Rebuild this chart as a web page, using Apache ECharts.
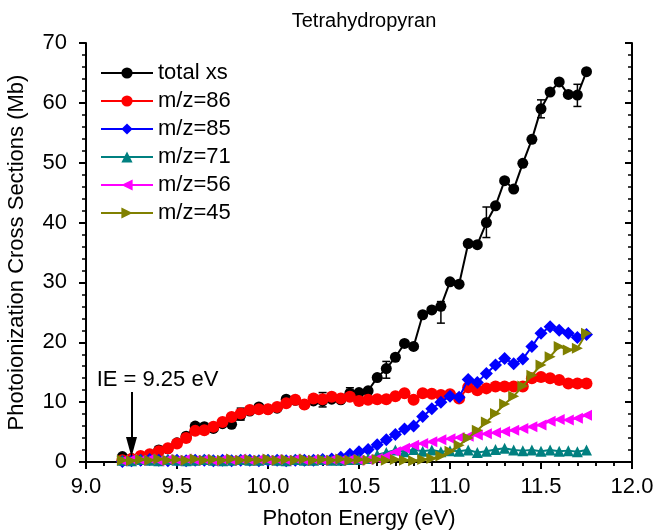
<!DOCTYPE html>
<html>
<head>
<meta charset="utf-8">
<script src="https://cdn.jsdelivr.net/npm/echarts@6/dist/echarts.min.js"></script>
<style>
html,body{margin:0;padding:0;background:#fff;}
#chart{width:657px;height:531px;}
</style>
</head>
<body>
<div id="chart"></div>
<script>
// Photon energies (eV)
var energies = [9.20,9.25,9.30,9.35,9.40,9.45,9.50,9.55,9.60,9.65,9.70,9.75,9.80,9.85,9.90,9.95,
  10.00,10.05,10.10,10.15,10.20,10.25,10.30,10.35,10.40,10.45,10.50,10.55,10.60,10.65,10.70,10.75,
  10.80,10.85,10.90,10.95,11.00,11.05,11.10,11.15,11.20,11.25,11.30,11.35,11.40,11.45,11.50,11.55,
  11.60,11.65,11.70,11.75];

var totalXs = [0.9,0.6,0.8,1.2,2.0,2.2,3.2,4.3,6.0,5.9,5.6,6.4,6.3,7.8,8.5,9.2,
  8.8,9.0,10.5,10.3,9.6,10.2,10.2,10.5,10.4,11.5,11.6,11.9,14.1,15.6,17.5,19.8,
  19.3,24.6,25.4,26.0,30.1,29.7,36.5,36.3,40.0,42.8,47.0,45.6,49.9,53.9,59.0,61.8,
  63.5,61.4,61.3,65.2];

var mz86 = [0.3,0.5,1.0,1.3,1.8,2.3,3.1,4.0,5.2,5.3,5.9,6.7,7.5,8.1,8.7,8.8,
  8.8,9.2,9.8,10.4,9.6,10.6,10.5,10.9,10.6,10.9,10.2,10.4,10.5,10.5,11.0,11.5,
  10.4,11.5,11.4,11.2,11.3,10.6,12.5,12.0,12.3,12.6,12.6,12.6,12.6,14.0,14.2,14.0,
  13.7,13.1,13.1,13.1];

var mz85 = [0.1,0.2,0.3,0.4,0.3,0.2,0.3,0.2,0.3,0.3,0.2,0.3,0.2,0.3,0.3,0.2,
  0.3,0.3,0.2,0.3,0.3,0.3,0.4,0.5,0.8,1.3,1.7,2.1,2.9,3.7,4.6,5.5,
  6.0,7.6,8.9,10.0,11.0,10.8,13.8,13.3,14.8,16.2,17.3,16.4,17.2,19.3,21.5,22.6,
  22.0,21.5,20.8,21.3];

var mz71 = [0.3,0.2,0.4,0.3,0.2,0.4,0.3,0.2,0.3,0.4,0.3,0.2,0.3,0.4,0.3,0.3,
  0.4,0.3,0.2,0.4,0.3,0.3,0.4,0.3,0.3,0.4,0.4,0.6,1.2,1.6,2.0,1.7,
  2.1,1.8,2.0,1.7,1.9,1.8,2.0,1.6,1.8,2.1,2.3,2.0,1.9,2.0,1.8,2.0,
  1.8,1.9,1.7,2.0];

var mz56 = [0.2,0.4,0.3,0.5,0.2,0.4,0.3,0.5,0.3,0.4,0.2,0.4,0.3,0.5,0.3,0.4,
  0.3,0.4,0.3,0.5,0.3,0.4,0.3,0.4,0.3,0.4,0.3,0.4,0.6,1.0,1.7,2.3,
  2.8,3.1,3.4,3.7,3.9,4.1,4.3,4.5,4.7,4.9,5.1,5.3,5.6,5.9,6.2,6.8,
  7.1,7.0,7.3,7.8];

var mz45 = [0.3,0.2,0.4,0.3,0.5,0.3,0.4,0.3,0.5,0.3,0.4,0.3,0.5,0.3,0.4,0.3,
  0.5,0.3,0.4,0.3,0.5,0.3,0.4,0.3,0.5,0.3,0.4,0.3,0.4,0.3,0.4,0.3,
  0.2,0.4,0.6,1.0,1.8,2.8,4.0,5.3,6.7,8.1,9.7,11.0,12.7,14.5,16.2,17.6,
  19.3,18.7,19.0,21.5];

// error bars on total xs
var errEnergy = [9.40, 9.85, 10.30, 10.45, 10.65, 10.95, 11.20, 11.50, 11.70];
var errLow    = [1.6, 7.0, 9.2, 10.9, 14.0, 23.2, 37.5, 57.5, 59.4];
var errHigh   = [2.6, 9.0, 11.6, 12.4, 16.8, 26.8, 42.6, 60.5, 63.1];

var seriesNames = ['total xs','m/z=86','m/z=85','m/z=71','m/z=56','m/z=45'];
var seriesColors = ['#000000','#ff0000','#0000ff','#008080','#ff00ff','#808000'];
var xTicks = ['9.0','9.5','10.0','10.5','11.0','11.5','12.0'];

// ionization energy annotation
var ieEnergy = 9.25;
var ieArrowTop = 11.7;
var ieArrowTip = 2.5;

function pairs(vals){ return energies.map(function(e,i){ return [e, vals[i]]; }); }

var FONT = 'Liberation Sans, Arial, sans-serif';
var FS = 22;
var chart = echarts.init(document.getElementById('chart'), null, {renderer:'canvas'});

function lineSeries(idx, vals, symbol, size, rot){
  return {
    name: seriesNames[idx], type:'line', data: pairs(vals),
    symbol: symbol, symbolSize: size, symbolRotate: rot || 0, showSymbol:true,
    itemStyle:{color: seriesColors[idx]},
    lineStyle:{color: seriesColors[idx], width:2},
    z: 2 + idx, animation:false
  };
}

var errData = errEnergy.map(function(e,i){ return [e, errLow[i], errHigh[i]]; });

var sLast = lineSeries(5, mz45, 'triangle', 11, -90);
sLast.markLine = {
  silent:true, animation:false, z:20,
  symbol:['none','triangle'], symbolSize:[11,20],
  lineStyle:{color:'#000', width:2, type:'solid'},
  itemStyle:{color:'#000'},
  label:{show:true, position:'start', formatter:'IE = 9.25 eV', color:'#000', fontSize:FS, fontFamily:FONT, offset:[26,4]},
  data:[[{coord:[ieEnergy,ieArrowTop]},{coord:[ieEnergy,ieArrowTip]}]]
};

var option = {
  backgroundColor:'#fff',
  animation:false,
  textStyle:{fontFamily:FONT},
  title:{text:'Tetrahydropyran', left:359, top:6, textAlign:'center',
    textStyle:{fontSize:20, fontWeight:'normal', color:'#000', fontFamily:FONT}},
  grid:{left:86, right:25, top:43, bottom:69, containLabel:false, outerBoundsMode:'none'},
  legend:{
    orient:'vertical', left:100, top:62, padding:0, itemWidth:52, itemHeight:14, itemGap:6,
    textStyle:{fontSize:FS, color:'#000', fontFamily:FONT},
    data: seriesNames
  },
  xAxis:[{
    type:'value', min:9.0, max:12.0, interval:0.5,
    name:'Photon Energy (eV)', nameLocation:'middle', nameGap:46,
    nameTextStyle:{fontSize:FS, color:'#000', fontFamily:FONT},
    axisLine:{show:true, lineStyle:{color:'#000', width:2}},
    axisTick:{show:true, length:7, lineStyle:{color:'#000', width:2}},
    minorTick:{show:true, splitNumber:5, length:4, lineStyle:{color:'#000', width:1.5}},
    axisLabel:{fontSize:FS, color:'#000', margin:14, fontFamily:FONT,
      formatter:function(v){ var i = Math.round((v-9)/0.5); return xTicks[i]; }},
    splitLine:{show:false}
  },{
    type:'value', position:'top', min:9.0, max:12.0, interval:0.5,
    axisLine:{show:true, lineStyle:{color:'#000', width:2}},
    axisTick:{show:true, inside:true, length:7, lineStyle:{color:'#000', width:2}},
    minorTick:{show:true, splitNumber:5, length:4, lineStyle:{color:'#000', width:1.5}},
    axisLabel:{show:false}, splitLine:{show:false}
  }],
  yAxis:[{
    type:'value', min:0, max:70, interval:10,
    name:'Photoionization Cross Sections (Mb)', nameLocation:'middle', nameGap:58,
    nameTextStyle:{fontSize:FS, color:'#000', fontFamily:FONT},
    axisLine:{show:true, lineStyle:{color:'#000', width:2}},
    axisTick:{show:true, length:7, lineStyle:{color:'#000', width:2}},
    minorTick:{show:true, splitNumber:5, length:4, lineStyle:{color:'#000', width:1.5}},
    axisLabel:{fontSize:FS, color:'#000', margin:19, fontFamily:FONT},
    splitLine:{show:false}
  },{
    type:'value', position:'right', min:0, max:70, interval:10,
    axisLine:{show:true, lineStyle:{color:'#000', width:2}},
    axisTick:{show:true, inside:true, length:7, lineStyle:{color:'#000', width:2}},
    minorTick:{show:true, splitNumber:5, length:4, lineStyle:{color:'#000', width:1.5}},
    axisLabel:{show:false}, splitLine:{show:false}
  }],
  series:[
    lineSeries(0, totalXs, 'circle', 11),
    {
      name:'err', type:'custom', data: errData, z:3, animation:false, silent:true,
      renderItem:function(params, api){
        var x = api.value(0);
        var lo = api.coord([x, api.value(1)]);
        var hi = api.coord([x, api.value(2)]);
        var w = 4;
        var st = {stroke:'#000', lineWidth:1.5};
        return {type:'group', children:[
          {type:'line', shape:{x1:lo[0],y1:lo[1],x2:hi[0],y2:hi[1]}, style:st},
          {type:'line', shape:{x1:lo[0]-w,y1:lo[1],x2:lo[0]+w,y2:lo[1]}, style:st},
          {type:'line', shape:{x1:hi[0]-w,y1:hi[1],x2:hi[0]+w,y2:hi[1]}, style:st}
        ]};
      }
    },
    lineSeries(1, mz86, 'circle', 12),
    lineSeries(2, mz85, 'diamond', 13),
    lineSeries(3, mz71, 'triangle', 11),
    lineSeries(4, mz56, 'triangle', 11, 90),
    sLast
  ]
};
chart.setOption(option);
</script>
</body>
</html>
